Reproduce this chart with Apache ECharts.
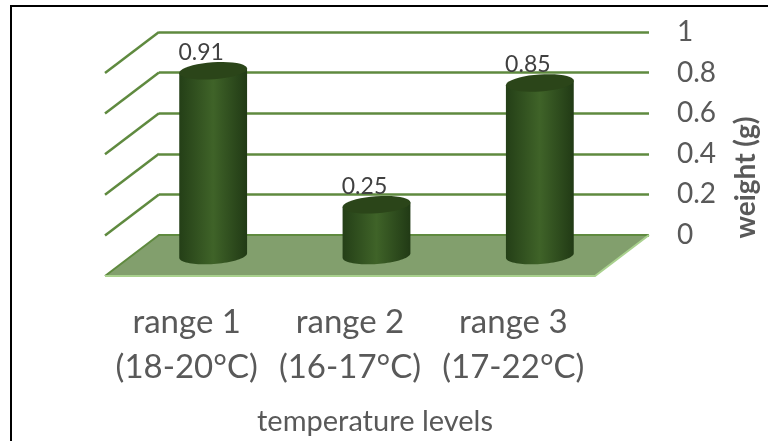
<!DOCTYPE html>
<html>
<head>
<meta charset="utf-8">
<style>
  html, body { margin: 0; padding: 0; background: #fff; }
  #chart { width: 768px; height: 441px; }
</style>
<script src="https://cdn.jsdelivr.net/npm/echarts@6/dist/echarts.min.js"></script>
</head>
<body>
<div id="chart"></div>
<script>
var categories = ['range 1\n(18-20°C)', 'range 2\n(16-17°C)', 'range 3\n(17-22°C)'];
var weights = [0.91, 0.25, 0.85];
var yTicks = [0, 0.2, 0.4, 0.6, 0.8, 1];

var chart = echarts.init(document.getElementById('chart'));

// pixel shift from the back wall to the front edge of the floor
var depthX = -54;
var depthY = 41;

// tilted ellipse, from t0 to t1 (radians)
function arcPoints (cx, cy, t0, t1) {
  var rx = 34;
  var ry = 8.5;
  var tilt = -4 * Math.PI / 180;
  var pts = [];
  for (var i = 0; i <= 40; i++) {
    var t = t0 + (t1 - t0) * i / 40;
    var x = rx * Math.cos(t);
    var y = ry * Math.sin(t);
    pts.push([cx + x * Math.cos(tilt) - y * Math.sin(tilt), cy + x * Math.sin(tilt) + y * Math.cos(tilt)]);
  }
  return pts;
}

function renderWall (params, api) {
  var p = api.coord([0, api.value(0)]);
  var left = params.coordSys.x;
  var y = p[1];
  var children = [];
  if (api.value(0) === 0) {
    var right = left + params.coordSys.width;
    children.push({
      type: 'polygon',
      shape: { points: [[left, y], [right, y], [right + depthX, y + depthY], [left + depthX, y + depthY]] },
      style: { fill: '#829f6d' }
    });
    children.push({
      type: 'polyline',
      shape: { points: [[left + depthX, y + depthY], [left, y], [right, y]] },
      style: { fill: null, stroke: '#5f8a3f', lineWidth: 2 }
    });
    children.push({
      type: 'polyline',
      shape: { points: [[left + depthX, y + depthY], [right + depthX, y + depthY], [right, y]] },
      style: { fill: null, stroke: '#a9d18e', lineWidth: 2 }
    });
  } else {
    children.push({
      type: 'line',
      shape: { x1: left, y1: y, x2: left + depthX, y2: y + depthY },
      style: { stroke: '#5f8a3f', lineWidth: 2.5 }
    });
  }
  return { type: 'group', children: children };
}

function renderCylinder (params, api) {
  var top = api.coord([api.value(0), api.value(1)]);
  var base = api.coord([api.value(0), 0]);
  var cx = top[0] + depthX / 2 - 0.5;
  var topY = top[1] + depthY / 2;
  var baseY = base[1] + depthY / 2;
  var body = arcPoints(cx, topY, Math.PI, 0)
    .slice(0, 1)
    .concat(arcPoints(cx, baseY, Math.PI, 0))
    .concat(arcPoints(cx, topY, 0, 0));
  return {
    type: 'group',
    children: [{
      type: 'polygon',
      shape: { points: body },
      style: {
        fill: new echarts.graphic.LinearGradient(0, 0, 1, 0, [
          { offset: 0, color: '#243f17' },
          { offset: 0.5, color: '#3f6328' },
          { offset: 1, color: '#213a15' }
        ])
      }
    }, {
      type: 'polygon',
      shape: { points: arcPoints(cx, topY, 0, Math.PI * 2) },
      style: { fill: '#2b4519' }
    }, {
      type: 'text',
      style: {
        text: String(api.value(1)),
        x: cx - 12,
        y: topY - 18,
        align: 'center',
        verticalAlign: 'middle',
        fill: '#404040',
        font: '23px Lato'
      }
    }]
  };
}

var option = {
  animation: false,
  backgroundColor: '#fff',
  textStyle: { fontFamily: 'Lato' },
  grid: [
    { left: 159, right: 119, top: 32, bottom: 206 },
    { left: 105, right: 173, top: 32, bottom: 165 }
  ],
  xAxis: [{
    type: 'category',
    gridIndex: 0,
    data: categories,
    axisLine: { show: false },
    axisTick: { show: false },
    axisLabel: { show: false }
  }, {
    type: 'category',
    gridIndex: 1,
    data: categories,
    axisLine: { show: false },
    axisTick: { show: false },
    axisLabel: { interval: 0, fontSize: 33, lineHeight: 45, color: '#595959', margin: 24 },
    name: 'temperature levels',
    nameLocation: 'middle',
    nameGap: 131,
    nameTextStyle: { fontSize: 29, color: '#595959', padding: [0, 0, 0, 50] }
  }],
  yAxis: [{
    type: 'value',
    gridIndex: 0,
    position: 'right',
    min: 0,
    max: 1,
    interval: 0.2,
    axisLine: { show: false },
    axisTick: { show: false },
    axisLabel: { fontSize: 28, color: '#595959', margin: 28, align: 'left', padding: [5, 0, 0, 0] },
    splitLine: { lineStyle: { color: '#5f8a3f', width: 2.5 } },
    name: 'weight (g)',
    nameLocation: 'middle',
    nameRotate: 90,
    nameGap: 83,
    nameTextStyle: { fontSize: 28, fontWeight: 'bold', color: '#595959', padding: [0, 88, 0, 0] }
  }, {
    type: 'value',
    gridIndex: 1,
    show: false
  }],
  series: [{
    type: 'custom',
    xAxisIndex: 0,
    yAxisIndex: 0,
    z: 2,
    silent: true,
    renderItem: renderWall,
    encode: { y: 0 },
    data: yTicks.map(function (v) { return [v]; })
  }, {
    type: 'custom',
    xAxisIndex: 0,
    yAxisIndex: 0,
    z: 3,
    renderItem: renderCylinder,
    encode: { x: 0, y: 1 },
    data: weights.map(function (v, i) { return [i, v]; })
  }],
  graphic: [{
    type: 'polyline',
    silent: true,
    z: 10,
    shape: { points: [[11, 441], [11, 6], [768, 6]] },
    style: { fill: null, stroke: '#000', lineWidth: 2 }
  }]
};

chart.setOption(option);
</script>
</body>
</html>
